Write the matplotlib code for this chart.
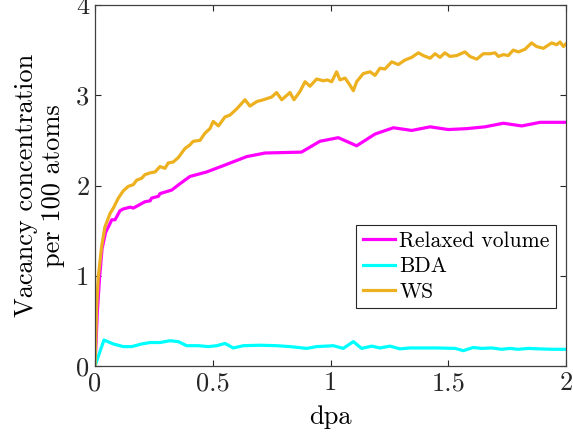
import matplotlib
matplotlib.use("Agg")
import matplotlib.pyplot as plt
from matplotlib.ticker import FormatStrFormatter

plt.rcParams['font.family'] = ['cmr10', 'DejaVu Serif']
plt.rcParams['mathtext.fontset'] = 'cm'
plt.rcParams['axes.formatter.use_mathtext'] = True

# Relaxed volume
rv_x = [0, 0.01, 0.02, 0.03, 0.045, 0.064, 0.071, 0.085, 0.106, 0.12, 0.149, 0.163, 0.198,
        0.212, 0.234, 0.24, 0.269, 0.276, 0.326, 0.361, 0.403, 0.474, 0.545, 0.644, 0.722,
        0.877, 0.955, 1.033, 1.111, 1.189, 1.267, 1.345, 1.423, 1.50, 1.578, 1.656, 1.734,
        1.812, 1.89, 2.0]
rv_y = [0, 0.6, 1.0, 1.3, 1.48, 1.58, 1.62, 1.62, 1.72, 1.74, 1.76, 1.75, 1.80,
        1.82, 1.83, 1.86, 1.88, 1.91, 1.95, 2.02, 2.10, 2.15, 2.22, 2.32, 2.36,
        2.37, 2.49, 2.53, 2.44, 2.57, 2.64, 2.61, 2.65, 2.62, 2.63, 2.65, 2.69,
        2.66, 2.70, 2.70]

# BDA
bda_x = [0, 0.038, 0.078, 0.12, 0.156, 0.198, 0.234, 0.276, 0.318, 0.354, 0.389, 0.439,
         0.481, 0.517, 0.552, 0.587, 0.630, 0.70, 0.771, 0.828, 0.899, 0.941, 0.98, 1.012,
         1.054, 1.097, 1.132, 1.175, 1.210, 1.253, 1.295, 1.338, 1.380, 1.451, 1.529,
         1.564, 1.606, 1.642, 1.684, 1.727, 1.762, 1.797, 1.840, 1.882, 1.946, 2.0]
bda_y = [0, 0.288, 0.244, 0.215, 0.215, 0.244, 0.26, 0.26, 0.28, 0.27, 0.225, 0.225,
         0.215, 0.225, 0.25, 0.20, 0.225, 0.23, 0.225, 0.215, 0.195, 0.215, 0.22, 0.225,
         0.195, 0.27, 0.195, 0.22, 0.20, 0.22, 0.19, 0.20, 0.20, 0.20, 0.195,
         0.17, 0.205, 0.195, 0.20, 0.185, 0.195, 0.185, 0.195, 0.19, 0.185, 0.185]

# WS
ws_x = [0, 0.007, 0.014, 0.028, 0.042, 0.064, 0.078, 0.099, 0.12, 0.141, 0.163, 0.177,
        0.198, 0.212, 0.234, 0.255, 0.276, 0.297, 0.311, 0.332, 0.354, 0.382, 0.403,
        0.417, 0.446, 0.467, 0.488, 0.502, 0.524, 0.552, 0.573, 0.602, 0.637, 0.658,
        0.687, 0.715, 0.750, 0.771, 0.793, 0.828, 0.845, 0.870, 0.892, 0.913, 0.941,
        0.970, 0.986, 1.005, 1.026, 1.040, 1.062, 1.083, 1.097, 1.111, 1.139, 1.168,
        1.189, 1.210, 1.231, 1.260, 1.288, 1.316, 1.345, 1.373, 1.394, 1.423, 1.444,
        1.465, 1.486, 1.507, 1.536, 1.571, 1.592, 1.621, 1.649, 1.677, 1.699, 1.713,
        1.734, 1.755, 1.776, 1.798, 1.826, 1.854, 1.875, 1.904, 1.939, 1.960, 1.975,
        1.989, 2.0]
ws_y = [0, 0.66, 0.99, 1.32, 1.54, 1.69, 1.75, 1.86, 1.94, 1.99, 2.01, 2.06,
        2.08, 2.12, 2.14, 2.15, 2.21, 2.19, 2.25, 2.26, 2.31, 2.41, 2.45,
        2.49, 2.50, 2.58, 2.63, 2.71, 2.66, 2.76, 2.78, 2.85, 2.95, 2.88,
        2.93, 2.95, 2.98, 3.03, 2.95, 3.03, 2.95, 3.04, 3.15, 3.10, 3.18,
        3.16, 3.17, 3.15, 3.26, 3.17, 3.19, 3.11, 3.05, 3.15, 3.24, 3.26,
        3.22, 3.30, 3.29, 3.37, 3.34, 3.39, 3.42, 3.47, 3.44, 3.41, 3.46,
        3.42, 3.47, 3.43, 3.44, 3.48, 3.43, 3.40, 3.46, 3.46, 3.47, 3.43,
        3.45, 3.44, 3.50, 3.48, 3.51, 3.58, 3.54, 3.52, 3.58, 3.56, 3.59,
        3.54, 3.57]

labels = ["Relaxed volume", "BDA", "WS"]
colors = ["#FF00FF", "#00FFFF", "#EDB120"]
x_ticks = [0, 0.5, 1, 1.5, 2]
y_ticks = [0, 1, 2, 3, 4]

fig = plt.figure(figsize=(5.73, 4.33), dpi=100)
ax = fig.add_axes([95/573, 67/433, 471/573, 361/433])

for xs, ys, lab, c in zip([rv_x, bda_x, ws_x], [rv_y, bda_y, ws_y], labels, colors):
    ax.plot(xs, ys, color=c, lw=2.3, label=lab)

ax.set_xlim(0, 2)
ax.set_ylim(0, 4)
ax.set_xticks(x_ticks)
ax.set_yticks(y_ticks)
ax.xaxis.set_major_formatter(FormatStrFormatter('%g'))
ax.yaxis.set_major_formatter(FormatStrFormatter('%g'))
ax.tick_params(direction='in', length=4, width=0.8, colors='#262626', labelsize=19,
               top=True, right=True, pad=4)
for sp in ax.spines.values():
    sp.set_color('#404040')
    sp.set_linewidth(0.9)

ax.set_xlabel('dpa', fontsize=19, labelpad=7)
ax.set_ylabel('Vacancy concentration\nper 100 atoms', fontsize=19, labelpad=8,
              linespacing=1.2)

leg = ax.legend(loc='upper right', bbox_to_anchor=(0.979, 0.391), fontsize=15.5,
                frameon=True, fancybox=False, framealpha=1, handlelength=1.5,
                handletextpad=0.2, borderpad=0.3, labelspacing=0.28,
                borderaxespad=0)
leg.get_frame().set_edgecolor('#262626')
leg.get_frame().set_linewidth(0.8)

fig.savefig('out.png', dpi=100)
